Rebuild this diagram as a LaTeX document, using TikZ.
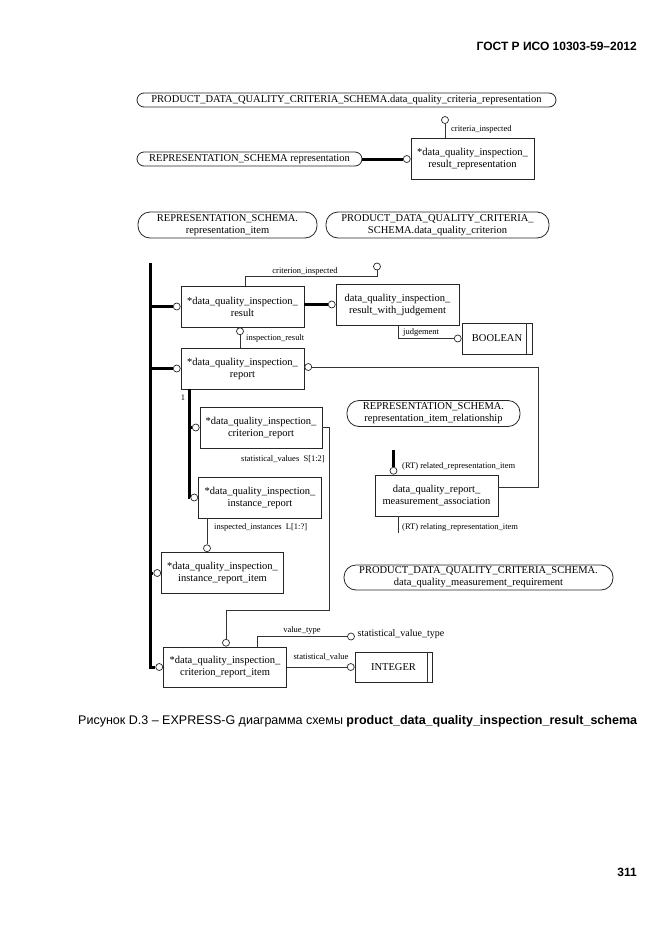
\documentclass[tikz,border=0pt]{standalone}
\usepackage{fontspec}
\usepackage{graphicx}
\setmainfont{Liberation Serif}
\newfontfamily\arialf{Liberation Sans}
\usetikzlibrary{calc}
\begin{document}
\begin{tikzpicture}[x=1pt,y=-1pt,
  ent/.style={draw=black!85, line width=0.8pt, rectangle, inner sep=0pt,
    minimum width=123pt, minimum height=41pt, align=center,
    font=\fontsize{10.5}{12}\selectfont},
  ovl/.style={draw=black!85, line width=0.8pt, rounded corners=7pt, inner sep=0pt,
    minimum height=14pt, align=center, font=\fontsize{10.5}{12}\selectfont},
  ovltwo/.style={ovl, rounded corners=12pt, minimum height=26pt},
  ring/.style={circle, draw=black!85, fill=white, line width=0.7pt, inner sep=0pt, minimum size=7pt},
  thinln/.style={draw=black!80, line width=0.7pt},
  thkln/.style={draw=black, line width=3pt},
  lbl/.style={font=\fontsize{8.5}{10}\selectfont, inner sep=0pt},
  sans/.style={font=\arialf\bfseries\fontsize{12}{14}\selectfont, inner sep=0pt},
]
\path[use as bounding box, fill=white] (0,0) rectangle (661,935);

% header / footer
\node[sans, anchor=east] (hdr) at (637,46) {ГОСТ Р ИСО 10303-59–2012};
\node[sans, anchor=east] (pgn) at (637,872) {311};
\node[anchor=west, inner sep=0pt] (cap) at (78,721) {\resizebox{559pt}{!}{\arialf\fontsize{12}{14}\selectfont Рисунок D.3 – EXPRESS-G диаграмма схемы \textbf{product\_data\_quality\_inspection\_result\_schema}}};

% top part
\node[ovl, minimum width=419pt] (otop) at (346.5,100) {PRODUCT\_DATA\_QUALITY\_CRITERIA\_SCHEMA.data\_quality\_criteria\_representation};
\node[ovl, minimum width=225pt] (orep) at (249.5,159) {REPRESENTATION\_SCHEMA representation};
\node[ent] (rr) at (472.5,159) {*data\_quality\_inspection\_\\result\_representation};
\node[ring, anchor=east] (rrL) at (rr.west) {};
\draw[thkln] (orep.east) -- (rrL.west);
\node[ring] (rrT) at (445,120) {};
\draw[thinln] (rrT.south) -- (rrT.south |- rr.north);
\node[lbl, anchor=west] (lci) at (451,129) {criteria\_inspected};

\node[ovltwo, minimum width=179pt] (ori) at (227.5,225) {REPRESENTATION\_SCHEMA.\\representation\_item};
\node[ovltwo, minimum width=223pt] (odqc) at (437.5,225) {PRODUCT\_DATA\_QUALITY\_CRITERIA\_\\SCHEMA.data\_quality\_criterion};

% main bar
\coordinate (barT) at (150,263);

% inspection result
\node[ent] (res) at (242.5,306.5) {*data\_quality\_inspection\_\\result};
\node[ring, anchor=east] (resL) at (res.west) {};
\draw[thkln] (resL.west) -- (resL.west -| barT);

\node[ent] (rwj) at (397.5,304.5) {data\_quality\_inspection\_\\result\_with\_judgement};
\node[ring, anchor=east] (rwjL) at (rwj.west) {};
\draw[thkln] (rwjL.west) -- (rwjL.west -| res.east);

\node[ring] (ciR) at (377,266.5) {};
\draw[thinln] ($(res.north)+(2.5,0)$) -- ($(res.north)+(2.5,-9)$) -| (ciR.south);
\node[lbl] (lcri) at (305,271) {criterion\_inspected};

\node[ent, minimum width=70pt, minimum height=31pt] (bool) at (497,338.5) {BOOLEAN};
\draw[thinln] ($(bool.north east)+(-6,0)$) -- ($(bool.south east)+(-6,0)$);
\node[ring, anchor=east] (boolL) at (bool.west) {};
\draw[thinln] ($(rwj.south)+(1,0)$) |- (boolL.west);
\node[lbl, anchor=west] (ljud) at (403,332) {judgement};

% report
\node[ent] (rep) at (242.5,368.5) {*data\_quality\_inspection\_\\report};
\node[ring, anchor=north] (resB) at ($(res.south)+(-2.5,0)$) {};
\draw[thinln] (resB.south) -- (resB.south |- rep.north);
\node[lbl, anchor=west] (lir) at (246,338) {inspection\_result};
\node[ring, anchor=east] (repL) at (rep.west) {};
\draw[thkln] (repL.west) -- (repL.west -| barT);
\node[ring, anchor=west] (repR) at ($(rep.east)+(0,-1.5)$) {};

% measurement association
\node[ovltwo, minimum width=173pt] (orir) at (433.5,413.5) {REPRESENTATION\_SCHEMA.\\representation\_item\_relationship};
\node[ent] (ma) at (436.5,495.5) {data\_quality\_report\_\\measurement\_association};
\coordinate (rcorner) at (538.5,487);
\draw[thinln] (repR.east) -| (rcorner) -- (rcorner -| ma.east);
\node[ring, anchor=south] (maT) at ($(ma.north)+(-43,0)$) {};
\coordinate (relEnd) at (393.5,450);
\draw[thkln] (maT.north) -- (relEnd);
\node[lbl, anchor=west] (lrel) at (402,466) {(RT) related\_representation\_item};
\coordinate (relgEnd) at (398,533);
\draw[thinln] (ma.south -| relgEnd) -- (relgEnd);
\node[lbl, anchor=west] (lrelg) at (402,527) {(RT) relating\_representation\_item};

\node[ovltwo, minimum width=269pt, minimum height=25pt] (odqm) at (478.5,577.5) {PRODUCT\_DATA\_QUALITY\_CRITERIA\_SCHEMA.\\data\_quality\_measurement\_requirement};

% criterion report and instance report
\node[lbl] (lone) at (183,398) {1};
\node[ent, minimum width=122pt] (cr) at (261,427.5) {*data\_quality\_inspection\_\\criterion\_report};
\node[ring, anchor=east] (crL) at (cr.west) {};
\node[ent] (ir) at (260,497.5) {*data\_quality\_inspection\_\\instance\_report};
\node[ring, anchor=east] (irL) at (ir.west) {};
\coordinate (subT) at (189,389);
\draw[thkln] (subT) |- (irL.west);
\draw[thkln] (crL.west) -- (crL.west -| subT);
\node[lbl, anchor=east] (lsv) at (325,459) {statistical\_values\ \ S[1:2]};
\node[lbl, anchor=west] (lii) at (214,527) {inspected\_instances\ \ L[1:?]};

\node[ent, minimum width=122pt] (iri) at (222.5,573) {*data\_quality\_inspection\_\\instance\_report\_item};
\node[ring, anchor=east] (iriL) at (iri.west) {};
\draw[thkln] (iriL.west) -- (iriL.west -| barT);
\node[ring, anchor=south] (iriT) at ($(iri.north)+(-15.5,0)$) {};
\draw[thinln] (iriT.north) -- (iriT.north |- ir.south);

\node[ent, minimum height=40pt] (cri) at (225,667) {*data\_quality\_inspection\_\\criterion\_report\_item};
\node[ring, anchor=east] (criL) at (cri.west) {};
\draw[thkln] (barT) |- (criL.west);
\node[ring, anchor=south] (criT) at ($(cri.north)+(1,0)$) {};
\coordinate (srcorner) at (329.5,610.5);
\draw[thinln] (cr.east) -| (srcorner) -| (criT.north);

\node[ring] (vtR) at (351,636.5) {};
\draw[thinln] ($(cri.north)+(32,0)$) |- (vtR.west);
\node[lbl] (lvt) at (302,630) {value\_type};
\node[anchor=west, inner sep=0pt, font=\fontsize{10}{12}\selectfont] (svt) at (357.5,634) {statistical\_value\_type};

\node[ent, minimum width=77pt, minimum height=30pt] (intg) at (393.5,667) {INTEGER};
\draw[thinln] ($(intg.north east)+(-5.5,0)$) -- ($(intg.south east)+(-5.5,0)$);
\node[ring, anchor=east] (intL) at (intg.west) {};
\draw[thinln] (cri.east) -- (intL.west);
\node[lbl] (lsval) at (321,657) {statistical\_value};
\end{tikzpicture}
\end{document}
